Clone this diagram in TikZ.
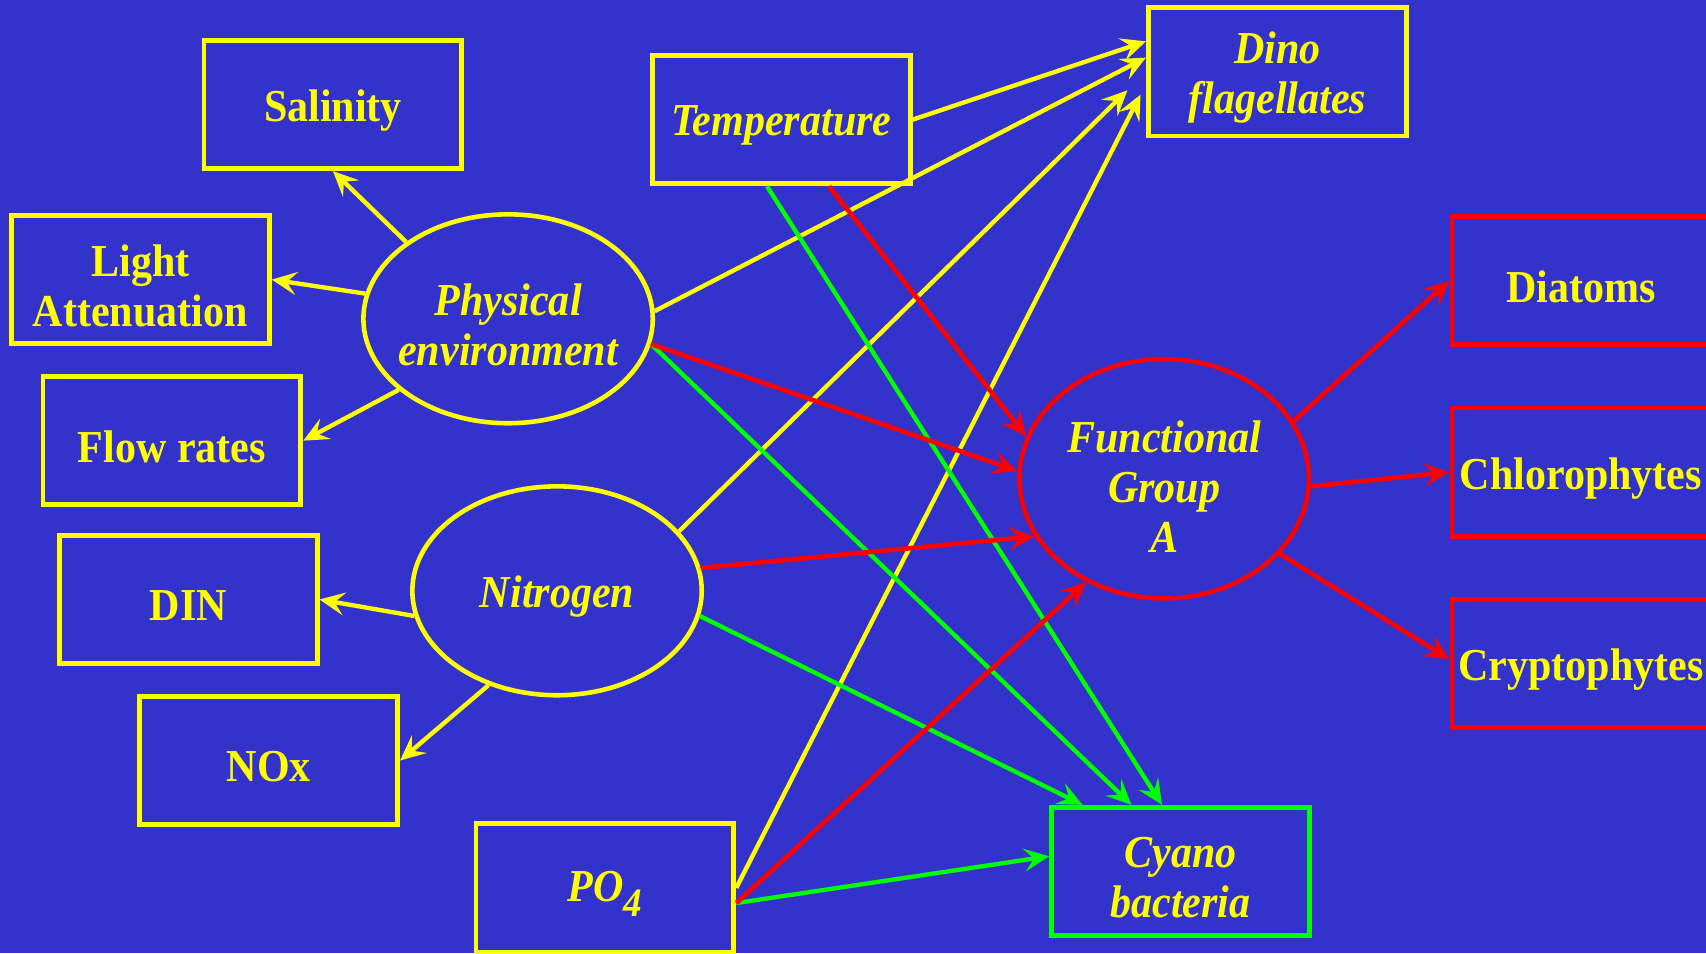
\documentclass[tikz,border=0pt]{standalone}
\usepackage{fontspec}
\setmainfont{Liberation Serif}[FakeStretch=0.92]
\usetikzlibrary{shapes.geometric,arrows.meta}
\definecolor{bg}{RGB}{51,51,204}
\definecolor{ylw}{RGB}{255,255,0}
\definecolor{rd}{RGB}{255,0,0}
\definecolor{grn}{RGB}{0,255,0}

\begin{document}
\begin{tikzpicture}[x=1pt,y=-1pt,
  up/.style={font=\fontsize{42}{46}\selectfont\bfseries, text=ylw, align=center},
  it/.style={font=\fontsize{42}{46}\selectfont\bfseries\itshape, text=ylw, align=center},
  % texts sit a little below the geometric centre of their frames
  txt/.style={label={[up, yshift=-5.5pt]center:{#1}}},
  itxt/.style={label={[it, yshift=-5.5pt]center:{#1}}},
  box/.style={draw=ylw, line width=4.5pt, rectangle, minimum width=237pt, minimum height=118pt, inner sep=0pt},
  oval/.style={draw=ylw, line width=4.2pt, ellipse, minimum width=266pt, minimum height=192pt, inner sep=0pt},
  tip/.style={-{Stealth[length=23pt,width=21pt,inset=9pt]}},
  ylink/.style={tip, draw=ylw, line width=4pt},
  rlink/.style={tip, draw=rd, line width=4.3pt},
  glink/.style={tip, draw=grn, line width=4pt}
]
% canvas
\fill[bg] (0,0) rectangle (1568,876);
\useasboundingbox (0,0) rectangle (1568,876);

% factor boxes
\node[box, txt=Salinity] (sal) at (306,96) {};
\node[box, txt=Light\\Attenuation] (light) at (129,257) {};
\node[box, txt=Flow rates] (flow) at (158,405) {};
\node[box, txt=DIN] (din) at (173,551) {};
\node[box, txt=NOx] (nox) at (247,699) {};
\node[box, itxt={PO\raisebox{-13pt}{\fontsize{37}{37}\selectfont 4}}] (po) at (556,816) {};
\node[box, itxt=Temperature] (temp) at (718,110) {};

% driver ellipses
\node[oval, itxt=Physical\\environment] (pe) at (467,293) {};
\node[oval, itxt=Nitrogen] (ni) at (512,543) {};
\node[oval, draw=rd, minimum height=220pt,
      label={[it, yshift=-7pt]center:{Functional\\Group\\A}}] (fg) at (1070,440) {};

% phytoplankton groups
\node[box, itxt=Dino\\flagellates] (dino) at (1174,66) {};
\node[box, draw=grn, itxt=Cyano\\bacteria] (cy) at (1085,801) {};
\node[box, draw=rd, txt=Diatoms] (dia) at (1453,258) {};
\node[box, draw=rd, txt=Chlorophytes] (chl) at (1453,434) {};
\node[box, draw=rd, txt=Cryptophytes] (cry) at (1453,610) {};

% physical environment and nitrogen components
\draw[ylink] (pe.143) -- (sal.south);
\draw[ylink] (pe.170) -- (light.east);
\draw[ylink] (pe.213) -- (flow.east);
\draw[ylink] (ni.190) -- (din.east);
\draw[ylink] (ni.234) -- (nox.east);

% links to dinoflagellates
\draw[ylink] (temp.east) -- ([yshift=28pt]dino.west);
\draw[ylink] (pe.3) -- ([yshift=13pt]dino.west);
\draw[ylink] (ni.26) -- ([xshift=-17pt,yshift=-17pt]dino.west);
\draw[ylink] (po.east) -- ([xshift=-5pt,yshift=-21pt]dino.west);

% links to cyanobacteria
\draw[glink] ([xshift=-13pt]temp.south) -- ([xshift=-17pt]cy.north);
\draw[glink] (pe.-10) -- ([xshift=-45pt]cy.north);
\draw[glink] (ni.-10) -- ([xshift=-90pt]cy.north);
\draw[glink] ([yshift=-14pt]po.east) -- ([yshift=14pt]cy.west);

% links to the functional group
\draw[rlink] ([xshift=44pt]temp.south) -- (fg.163);
\draw[rlink] (pe.-10) -- (fg.177);
\draw[rlink] (ni.9) -- (fg.204);
\draw[rlink] ([yshift=-14pt]po.east) -- (fg.233);

% functional group members
\draw[rlink] (fg.24) -- (dia.west);
\draw[rlink] (fg.-3) -- (chl.west);
\draw[rlink] (fg.-33) -- ([yshift=4pt]cry.west);
\end{tikzpicture}
\end{document}
